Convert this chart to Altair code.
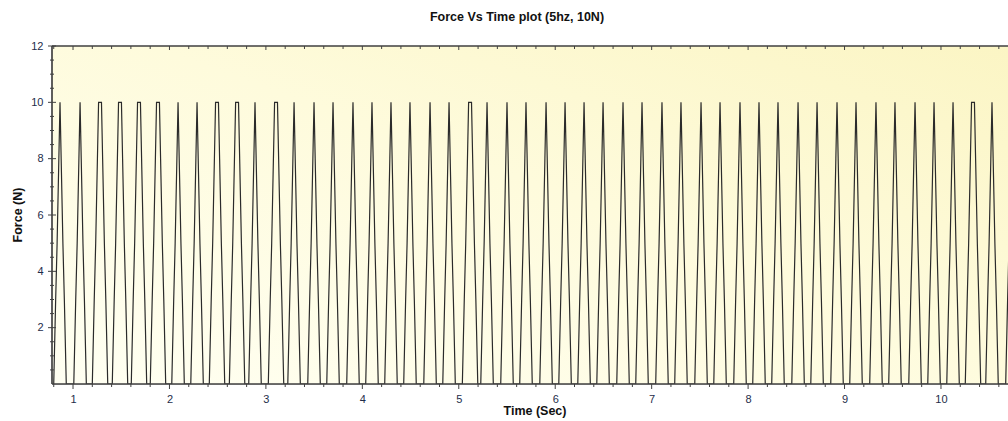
import altair as alt
import pandas as pd

# Peak times of the 5 Hz force pulses (s) and the width of each pulse's flat top (s)
peak_t = [
    0.865, 1.073, 1.280, 1.487, 1.684, 1.881, 2.089, 2.286, 2.493, 2.701,
    2.887, 3.105, 3.292, 3.499, 3.696, 3.903, 4.100, 4.297, 4.494, 4.702,
    4.899, 5.117, 5.293, 5.500, 5.697, 5.905, 6.102, 6.299, 6.496, 6.703,
    6.900, 7.107, 7.304, 7.512, 7.709, 7.916, 8.113, 8.310, 8.518, 8.715,
    8.922, 9.119, 9.326, 9.523, 9.731, 9.928, 10.125, 10.332, 10.529, 10.736,
]
top_w = [
    0, 0, 0.03, 0.03, 0.03, 0.03, 0, 0, 0.03, 0.03,
    0, 0.03, 0, 0, 0, 0, 0, 0, 0, 0,
    0, 0.03, 0, 0, 0, 0, 0, 0, 0, 0,
    0, 0, 0, 0, 0, 0, 0, 0, 0, 0,
    0, 0, 0, 0, 0, 0, 0, 0.03, 0, 0,
]

# Shape of one pulse edge: time away from the top (s) and force (N)
edge_dt = [0.0, 0.012, 0.030, 0.045, 0.065]
edge_f = [10, 8, 5, 3, 0]

t_pts, f_pts = [], []
for p, w in zip(peak_t, top_w):
    for dt, f in zip(reversed(edge_dt), reversed(edge_f)):
        t_pts.append(p - w / 2 - dt)
        f_pts.append(f)
    for dt, f in zip(edge_dt, edge_f):
        t_pts.append(p + w / 2 + dt)
        f_pts.append(f)

x_major = [1, 2, 3, 4, 5, 6, 7, 8, 9, 10]
x_minor = [round(0.8 + 0.2 * i, 1) for i in range(50) if (i + 4) % 5 != 0]
y_major = [2, 4, 6, 8, 10, 12]
y_minor = [0.5 * i for i in range(1, 24) if i % 4 != 0]

X_DOMAIN = [0.782, 10.695]
Y_DOMAIN = [0, 12]
W, H = 956, 338
AXIS_COLOR = "#404040"
LABEL_COLOR = "#1e2d4a"
FONT = "Liberation Sans"

xs = alt.Scale(domain=X_DOMAIN, nice=False, zero=False)
ys = alt.Scale(domain=Y_DOMAIN, nice=False)

wave = pd.DataFrame({"t": t_pts, "f": f_pts, "i": range(len(t_pts))})
one = pd.DataFrame({"k": [0]})

background = alt.Chart(one).mark_rect(
    color=alt.Gradient(
        gradient="linear",
        x1=1, y1=0, x2=0, y2=1,
        stops=[
            alt.GradientStop(color="#fbf5c4", offset=0),
            alt.GradientStop(color="#fefbdc", offset=0.45),
            alt.GradientStop(color="#fffff2", offset=1),
        ],
    )
).encode(x=alt.value(0), x2=alt.value(W), y=alt.value(0), y2=alt.value(H))

# Dotted grid and value labels come from the axes
axes = alt.Chart(pd.DataFrame({"t": [1.0], "f": [0.0]})).mark_point(opacity=0).encode(
    x=alt.X("t:Q", scale=xs, axis=alt.Axis(
        values=x_major, format="d", ticks=False, domain=False, title=None,
        labelFont=FONT, labelFontSize=11, labelColor=LABEL_COLOR, labelPadding=9,
        grid=True, gridColor="#c8c8c8", gridDash=[1, 3], gridWidth=1,
    )),
    y=alt.Y("f:Q", scale=ys, axis=alt.Axis(
        values=y_major, format="d", ticks=False, domain=False, title=None,
        labelFont=FONT, labelFontSize=11, labelColor=LABEL_COLOR, labelPadding=9,
        grid=True, gridColor="#c8c8c8", gridDash=[1, 3], gridWidth=1,
    )),
)

line = alt.Chart(wave).mark_line(color="#2b2b2b", strokeWidth=1.2, clip=True).encode(
    x=alt.X("t:Q", scale=xs), y=alt.Y("f:Q", scale=ys), order="i:Q"
)

frame = alt.Chart(pd.DataFrame({"a": [0, 1]})).mark_rule(color=AXIS_COLOR, strokeWidth=1.2)
left_line = frame.encode(x=alt.value(0), y=alt.value(0), y2=alt.value(H))
bottom_line = frame.encode(x=alt.value(0), x2=alt.value(W), y=alt.value(H))
top_line = frame.encode(x=alt.value(0), x2=alt.value(W), y=alt.value(0))

def vticks(vals, y0, y1):
    return alt.Chart(pd.DataFrame({"t": vals})).mark_rule(color=AXIS_COLOR, strokeWidth=1).encode(
        x=alt.X("t:Q", scale=xs), y=alt.value(y0), y2=alt.value(y1)
    )

def hticks(vals, x0, x1):
    return alt.Chart(pd.DataFrame({"f": vals})).mark_rule(color=AXIS_COLOR, strokeWidth=1).encode(
        y=alt.Y("f:Q", scale=ys), x=alt.value(x0), x2=alt.value(x1)
    )

ticks = [
    vticks(x_major, H, H + 5), vticks(x_minor, H, H + 3),
    vticks(x_major, 0, 4), vticks(x_minor, 0, 3),
    hticks(y_major, -4, 4), hticks(y_minor, -2, 2),
]

def label(text, x, y, size=12, angle=0):
    return alt.Chart(one).mark_text(
        text=text, font=FONT, fontSize=size, fontWeight="bold", color="#111111",
        angle=angle, align="center", baseline="middle",
    ).encode(x=alt.value(x), y=alt.value(y))

title = label("Force Vs Time plot (5hz, 10N)", 465, -29, 12.5)
xtitle = label("Time (Sec)", 483, 365, 12.5)
ytitle = label("Force (N)", -34, 169, 12.5, angle=270)

chart = alt.layer(
    background, axes, line, left_line, bottom_line, top_line, *ticks, title, xtitle, ytitle
).properties(
    width=W, height=H,
    padding={"left": 52, "top": 46, "right": 0, "bottom": 37},
    autosize=alt.AutoSizeParams(type="none"),
).configure_view(stroke=None).configure(background="#ffffff")

chart.save("out.html", embed_options={"renderer": "svg", "actions": False})
